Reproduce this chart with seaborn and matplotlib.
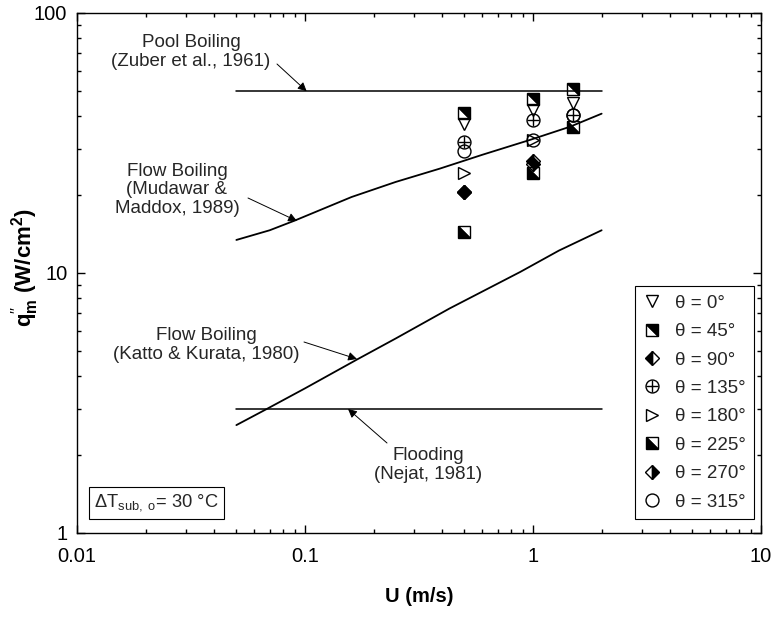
import numpy as np
import pandas as pd
import matplotlib
matplotlib.use("Agg")
import matplotlib.pyplot as plt
import seaborn as sns
from matplotlib.markers import MarkerStyle
from matplotlib.transforms import Affine2D
from matplotlib.lines import Line2D
from matplotlib.ticker import FixedLocator, LogLocator, FuncFormatter, NullFormatter

# ---------------- data ----------------
# correlations
u_pool = [0.05, 2.0]
q_pool = [50.0, 50.0]

u_flood = [0.05, 2.0]
q_flood = [3.0, 3.0]

u_mudawar = [0.05, 0.07, 0.09, 0.16, 0.25, 0.39, 0.6, 0.97, 1.45, 2.0]
q_mudawar = [13.4, 14.6, 15.9, 19.6, 22.4, 25.2, 28.5, 32.5, 36.5, 41.0]

u_katto = [0.05, 0.068, 0.1, 0.17, 0.25, 0.43, 0.88, 1.3, 2.0]
q_katto = [2.6, 3.0, 3.6, 4.66, 5.6, 7.3, 10.1, 12.2, 14.6]

# experimental data (U = 0.5, 1.0, 1.5 m/s)
angles = ["0", "45", "90", "135", "180", "225", "270", "315"]
u_test = [0.5, 1.0, 1.5]
q_0 = [37.5, 42.4, 45.0]
q_45 = [41.2, 46.7, 51.0]
q_90 = [20.5, 27.0, np.nan]
q_135 = [32.0, 38.8, 40.5]
q_180 = [24.3, 32.5, np.nan]
q_225 = [14.4, 24.2, 36.3]
q_270 = [20.5, 26.3, np.nan]
q_315 = [29.4, 32.5, 40.5]
q_by_angle = [q_0, q_45, q_90, q_135, q_180, q_225, q_270, q_315]

x_ticks = [0.01, 0.1, 1, 10]
y_ticks = [1, 10, 100]

# ---------------- style ----------------
sns.set_theme(style="ticks")
plt.rcParams["font.family"] = ["Liberation Sans", "DejaVu Sans"]
plt.rcParams["mathtext.fontset"] = "custom"
plt.rcParams["mathtext.rm"] = "Liberation Sans"
plt.rcParams["mathtext.it"] = "Liberation Sans:italic"
plt.rcParams["mathtext.bf"] = "Liberation Sans:bold"
plt.rcParams["xtick.direction"] = "in"
plt.rcParams["ytick.direction"] = "in"

fig = plt.figure(figsize=(7.72, 6.24), dpi=100)
fig.patch.set_facecolor("white")
ax = fig.add_axes([77 / 772, 1 - 533 / 624, 684 / 772, 520 / 624])
ax.set_facecolor("white")

# correlation lines
for u, q, lw in [(u_pool, q_pool, 1.1), (u_flood, q_flood, 1.1),
                 (u_mudawar, q_mudawar, 1.3), (u_katto, q_katto, 1.3)]:
    df = pd.DataFrame({"U": u, "q": q})
    sns.lineplot(data=df, x="U", y="q", ax=ax, color="black", lw=lw,
                 estimator=None, sort=False, legend=False)

ax.set_xscale("log")
ax.set_yscale("log")
ax.set_xlim(0.01, 10)
ax.set_ylim(1, 100)

# markers
rot = Affine2D().rotate_deg(-45)
ms = 9.3
msd = 6.8
styles = {
    "0": dict(marker="v", fillstyle="none", ms=ms),
    "45": dict(marker=MarkerStyle("D", "top", rot), ms=ms),
    "90": dict(marker=MarkerStyle("D", "left"), ms=msd),
    "135": dict(marker="o", fillstyle="none", ms=ms),
    "180": dict(marker=">", fillstyle="none", ms=ms),
    "225": dict(marker=MarkerStyle("D", "bottom", rot), ms=ms),
    "270": dict(marker=MarkerStyle("D", "right"), ms=msd),
    "315": dict(marker="o", fillstyle="none", ms=ms),
}
handles = []
for ang, qv in zip(angles, q_by_angle):
    st = styles[ang]
    kw = dict(ls="none", color="black", mec="black", mfc="black",
              mew=1.0, markerfacecoloralt="none")
    ax.plot(u_test, qv, **kw, **st)
    h = Line2D([], [], **kw, **st)
    if ang == "135":
        ax.plot(u_test, qv, ls="none", marker="+", ms=ms, mew=1.0, color="black")
        h = (h, Line2D([], [], ls="none", marker="+", ms=ms, mew=1.0, color="black"))
    handles.append(h)

labels = [f"θ = {a}°" for a in angles]
leg = ax.legend(handles, labels, loc="lower right",
                bbox_to_anchor=(0.99, 0.027), frameon=True, fancybox=False,
                edgecolor="black", framealpha=1, fontsize=13.5, numpoints=1,
                handlelength=1.0, handletextpad=0.7, labelspacing=0.6,
                borderpad=0.45, borderaxespad=0)
leg.get_frame().set_linewidth(0.8)

# annotations
txt_kw = dict(ha="center", va="center", fontsize=13.5, linespacing=1.12)
arr = dict(arrowstyle="-|>", color="black", lw=0.7, shrinkA=0, shrinkB=0,
           mutation_scale=13)

def px2data(x, y):
    return 0.01 * 10 ** ((x - 77) / 228.0), 10 ** (2 - (y - 13) / 260.0)

ax.text(*px2data(191, 52), "Pool Boiling\n(Zuber et al., 1961)", **txt_kw)
ax.annotate("", xy=(0.1017, 50), xytext=px2data(277, 64), arrowprops=arr)

ax.text(*px2data(177, 190), "Flow Boiling\n(Mudawar &\nMaddox, 1989)", **txt_kw)
ax.annotate("", xy=px2data(297, 221), xytext=px2data(248, 198), arrowprops=arr)

ax.text(*px2data(206, 345), "Flow Boiling\n(Katto & Kurata, 1980)", **txt_kw)
ax.annotate("", xy=px2data(357, 359), xytext=px2data(304, 342), arrowprops=arr)

ax.text(*px2data(428, 465), "Flooding\n(Nejat, 1981)", **txt_kw)
ax.annotate("", xy=(px2data(348, 0)[0], 3.0), xytext=px2data(387, 443), arrowprops=arr)

ax.text(0.0255, 0.058, "ΔT$_{\\rm sub,\\ o}$= 30 °C", transform=ax.transAxes,
        ha="left", va="center", fontsize=13.2,
        bbox=dict(boxstyle="square,pad=0.3", fc="white", ec="black", lw=0.8))

# axes / ticks
ax.xaxis.set_major_locator(FixedLocator(x_ticks))
ax.yaxis.set_major_locator(FixedLocator(y_ticks))
fmt = FuncFormatter(lambda v, p: f"{v:g}")
ax.xaxis.set_major_formatter(fmt)
ax.yaxis.set_major_formatter(fmt)
ax.xaxis.set_minor_locator(LogLocator(base=10, subs=np.arange(2, 10)))
ax.yaxis.set_minor_locator(LogLocator(base=10, subs=np.arange(2, 10)))
ax.xaxis.set_minor_formatter(NullFormatter())
ax.yaxis.set_minor_formatter(NullFormatter())
ax.tick_params(which="both", direction="in", top=True, right=True,
               color="black", width=1.0, labelsize=14.5, labelcolor="black")
ax.tick_params(which="major", length=6)
ax.tick_params(which="minor", length=3)
ax.tick_params(axis="x", which="major", pad=10)
ax.tick_params(axis="y", which="major", pad=7)
for s in ax.spines.values():
    s.set_visible(True)
    s.set_color("black")
    s.set_linewidth(1.0)

ax.set_xlabel("U (m/s)", fontsize=14.5, fontweight="bold", labelpad=15, color="black")
ax.set_ylabel(r"$\mathbf{q}^{\prime\prime}_{\mathbf{m}}$ (W/cm$^{\mathbf{2}}$)",
              fontsize=16, fontweight="bold", color="black")
ax.yaxis.set_label_coords((41 - 77) / 684, 0.51)
ax.grid(False)

fig.savefig("out.png", dpi=100, facecolor="white")
